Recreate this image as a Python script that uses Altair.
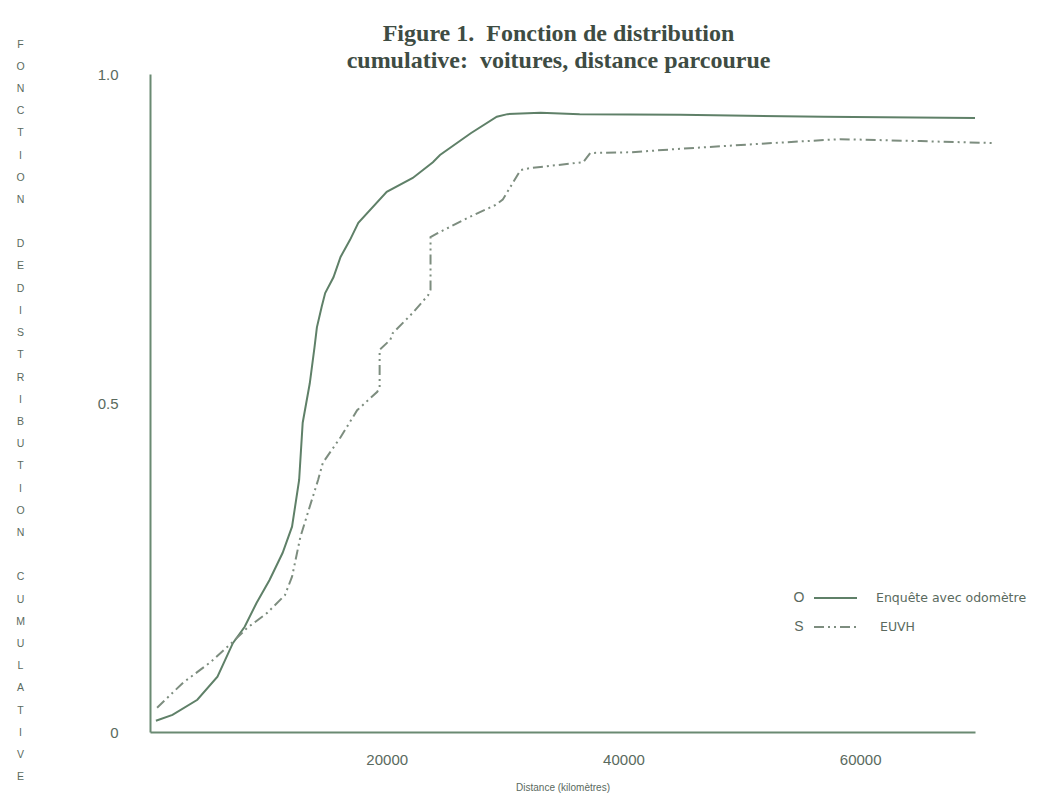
import altair as alt
import pandas as pd

# ---- data ----
o_dist = [500, 1900, 4000, 5700, 7000, 8000, 9000, 10100, 11200, 12000, 12600, 12900,
          13500, 13900, 14100, 14500, 14800, 15500, 16100, 16900, 17600, 20000, 22200,
          23900, 24500, 27100, 29300, 30200, 33000, 36300, 44800, 56900, 69700]
o_cdf = [0.017, 0.026, 0.049, 0.084, 0.135, 0.160, 0.196, 0.231, 0.272, 0.312, 0.383, 0.470,
         0.530, 0.585, 0.615, 0.646, 0.667, 0.691, 0.722, 0.748, 0.774, 0.821, 0.842,
         0.866, 0.877, 0.910, 0.935, 0.939, 0.941, 0.939, 0.938, 0.935, 0.933]

s_dist = [600, 2800, 5100, 7000, 8200, 9900, 11400, 12000, 12700, 13400, 14200, 14600,
          16100, 17500, 19200, 19400, 19400, 20300, 20500, 22200, 23500, 23700, 23700,
          24300, 26800, 29200, 29800, 31300, 32100, 36600, 37200, 40600, 44500, 51600,
          58300, 65100, 71300]
s_cdf = [0.037, 0.075, 0.106, 0.137, 0.158, 0.181, 0.208, 0.236, 0.296, 0.337, 0.383, 0.409,
         0.448, 0.489, 0.517, 0.524, 0.581, 0.596, 0.606, 0.637, 0.664, 0.672, 0.752,
         0.758, 0.781, 0.801, 0.809, 0.854, 0.857, 0.866, 0.880, 0.881, 0.886, 0.894,
         0.901, 0.898, 0.895]

legend_letters = ["O", "S"]
legend_labels = ["Enquête avec odomètre", "EUVH"]

x_ticks = [20000, 40000, 60000]
y_ticks = [0, 0.5, 1.0]

title_lines = ["Figure 1.\u00a0 Fonction de distribution",
               "cumulative:\u00a0 voitures, distance parcourue"]
y_title_words = ["FONCTION", "DEDISTRIBUTION", "CUMULATIVE"]
y_title = []
for k, w in enumerate(y_title_words):
    if k:
        y_title.append("\u200b")
    y_title.extend(list(w))

# ---- styling ----
SOLID = "#5f8068"
DASH = "#7d8d7f"
AXIS = "#6a8a72"
TEXT = "#5a6a5e"
DASHPAT = [10, 4, 2, 4, 2, 4]

df_o = pd.DataFrame({"d": o_dist, "p": o_cdf, "i": range(len(o_dist))})
df_s = pd.DataFrame({"d": s_dist, "p": s_cdf, "i": range(len(s_dist))})

xscale = alt.Scale(domain=[0, 69700], nice=False, zero=False)
yscale = alt.Scale(domain=[0, 1.0], nice=False)

xaxis = alt.Axis(values=x_ticks, ticks=False, grid=False, domainColor=AXIS, domainWidth=2,
                 labelColor=TEXT, labelFont="Liberation Sans", labelFontSize=15,
                 labelPadding=20, labelExpr="format(datum.value, 'd')",
                 title="Distance (kilomètres)", titleFont="Liberation Sans",
                 titleFontSize=10, titleFontWeight="normal", titleColor=TEXT,
                 titleBaseline="top", titleY=50)
yaxis = alt.Axis(values=y_ticks, ticks=False, grid=False, domainColor=AXIS, domainWidth=2,
                 labelColor=TEXT, labelFont="Liberation Sans", labelFontSize=15,
                 labelPadding=32,
                 labelExpr="datum.value == 0 ? '0' : format(datum.value, '.1f')",
                 title=y_title, titleAngle=0, titleAlign="center", titleBaseline="top",
                 titleX=-130, titleY=-35, titleLineHeight=22.2,
                 titleFont="Liberation Sans", titleFontSize=10.5,
                 titleFontWeight="normal", titleColor=TEXT)

line_o = alt.Chart(df_o).mark_line(color=SOLID, strokeWidth=2, clip=False).encode(
    x=alt.X("d:Q", scale=xscale, axis=xaxis),
    y=alt.Y("p:Q", scale=yscale, axis=yaxis),
    order="i:Q",
)
line_s = alt.Chart(df_s).mark_line(color=DASH, strokeWidth=2, strokeDash=DASHPAT,
                                   clip=False).encode(
    x=alt.X("d:Q", scale=xscale),
    y=alt.Y("p:Q", scale=yscale),
    order="i:Q",
)

# ---- manual legend (bottom right, as in the reference) ----
leg_layers = []
rows_y = [524, 553]
for k in range(2):
    letter = alt.Chart(pd.DataFrame({"t": [legend_letters[k]]})).mark_text(
        font="Liberation Sans", fontSize=14, color=TEXT, align="center", baseline="middle"
    ).encode(text="t:N", x=alt.value(649), y=alt.value(rows_y[k]))
    rule_kw = dict(color=SOLID if k == 0 else DASH, strokeWidth=2)
    if k == 1:
        rule_kw["strokeDash"] = DASHPAT
    rule = alt.Chart(pd.DataFrame({"t": [legend_labels[k]]})).mark_rule(**rule_kw).encode(
        x=alt.value(664), x2=alt.value(707), y=alt.value(rows_y[k]))
    label = alt.Chart(pd.DataFrame({"t": [legend_labels[k]]})).mark_text(
        font="DejaVu Sans", fontSize=12.5, color=TEXT, align="left", baseline="middle"
    ).encode(text="t:N", x=alt.value(726 if k == 0 else 730), y=alt.value(rows_y[k]))
    leg_layers += [letter, rule, label]

chart = alt.layer(line_o, line_s, *leg_layers).properties(
    width=825, height=658,
    background="white",
    title=alt.TitleParams(text=title_lines, font="Liberation Serif", fontSize=24,
                          fontWeight="bold", color="#3e4c43", anchor="middle",
                          lineHeight=27, offset=8, dy=42, dx=-4),
    padding={"left": 150, "top": 74, "right": 77, "bottom": 65},
    autosize=alt.AutoSizeParams(type="none"),
).configure_view(stroke=None)

chart.save("out.html", embed_options={"renderer": "svg", "actions": False})
